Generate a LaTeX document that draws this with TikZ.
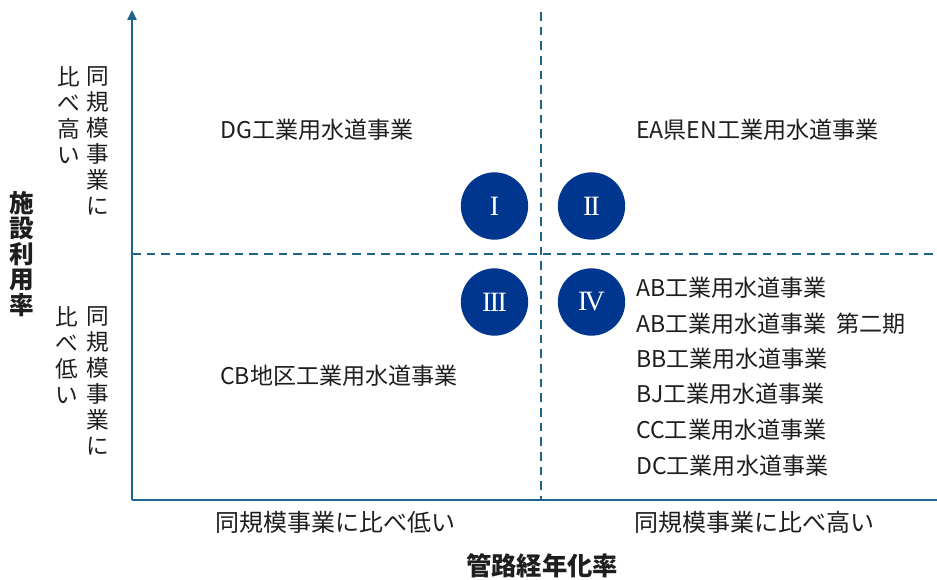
\documentclass[tikz,border=0pt]{standalone}
\usepackage{fontspec}
\setmainfont{Noto Sans CJK JP}
\newfontfamily\numfont{Liberation Serif}
\usetikzlibrary{arrows.meta}
\definecolor{axisblue}{RGB}{31,100,140}
\definecolor{circblue}{RGB}{0,54,142}
\definecolor{txt}{RGB}{30,30,30}
\tikzset{
  axisline/.style={draw=axisblue, line width=1.6pt},
  divline/.style={draw=axisblue, line width=1.5pt, dash pattern=on 6.5pt off 4.5pt},
  quadcirc/.style={circle, fill=circblue, minimum size=50.5pt, inner sep=0pt, text=white, font=\numfont\fontsize{21}{21}\selectfont},
  itemtext/.style={anchor=west, inner sep=0pt, text=txt, font=\fontsize{17.3}{19}\selectfont},
  vtext/.style={align=center, inner sep=0pt, anchor=north, text=txt, font=\fontsize{17}{19.5}\selectfont},
  vbold/.style={align=center, inner sep=0pt, text=txt, font=\bfseries\fontsize{18.5}{19.2}\selectfont},
  xlab/.style={inner sep=0pt, text=txt, font=\fontsize{18}{20}\selectfont},
  xbold/.style={inner sep=0pt, text=txt, font=\bfseries\fontsize{19}{20}\selectfont},
}
\begin{document}
\begin{tikzpicture}[x=0.75pt, y=-0.75pt]
\useasboundingbox (0,0) rectangle (937,580);
% coordinates
\coordinate (O) at (132,500);
\coordinate (Ytop) at (132,10);
\coordinate (Xend) at (937,500);
\coordinate (Vtop) at (541,12);
\coordinate (Vbot) at (541,500);
\coordinate (Hl) at (132,254);
\coordinate (Hr) at (937,254);
% dividers
\draw[divline] (Vtop) -- (Vbot);
\draw[divline] (Hl) -- (Hr);
% axes
\draw[axisline, -{Triangle[length=7.5pt, width=7pt]}] (O) -- (Ytop);
\draw[axisline] (O) -- (Xend);
% circles
\node[quadcirc] (q1) at (494.5,206) {I};
\node[quadcirc] (q2) at (591.5,206) {I\kern-0.06emI};
\node[quadcirc] (q3) at (494.5,302) {I\kern-0.06emI\kern-0.06emI};
\node[quadcirc] (q4) at (591.5,302) {I\kern-0.1emV};
% quadrant texts
\node[itemtext] (dg) at (220,130) {DG工業用水道事業};
\node[itemtext] (ea) at (636,130) {EA県EN工業用水道事業};
\node[itemtext] (cb) at (220,376) {CB地区工業用水道事業};
\node[itemtext] (r1) at (636,288) {AB工業用水道事業};
\node[itemtext] (r2) at (636,324) {AB工業用水道事業\hspace{0.4em}第二期};
\node[itemtext] (r3) at (636,359) {BB工業用水道事業};
\node[itemtext] (r4) at (636,394) {BJ工業用水道事業};
\node[itemtext] (r5) at (636,430) {CC工業用水道事業};
\node[itemtext] (r6) at (636,466) {DC工業用水道事業};
% y axis side labels
\node[vtext] (uh1) at (98,66) {同\\規\\模\\事\\業\\に};
\node[vtext] (uh2) at (69,66) {比\\べ\\高\\い};
\node[vtext] (lh1) at (98,306) {同\\規\\模\\事\\業\\に};
\node[vtext] (lh2) at (67,306) {比\\べ\\低\\い};
\node[vbold] (ylab) at (22,254) {施\\設\\利\\用\\率};
% x axis labels
\node[xlab] (xl1) at (335,522) {同規模事業に比べ低い};
\node[xlab] (xl2) at (754,522) {同規模事業に比べ高い};
\node[xbold] (xlab) at (542,566) {管路経年化率};
\end{tikzpicture}
\end{document}
